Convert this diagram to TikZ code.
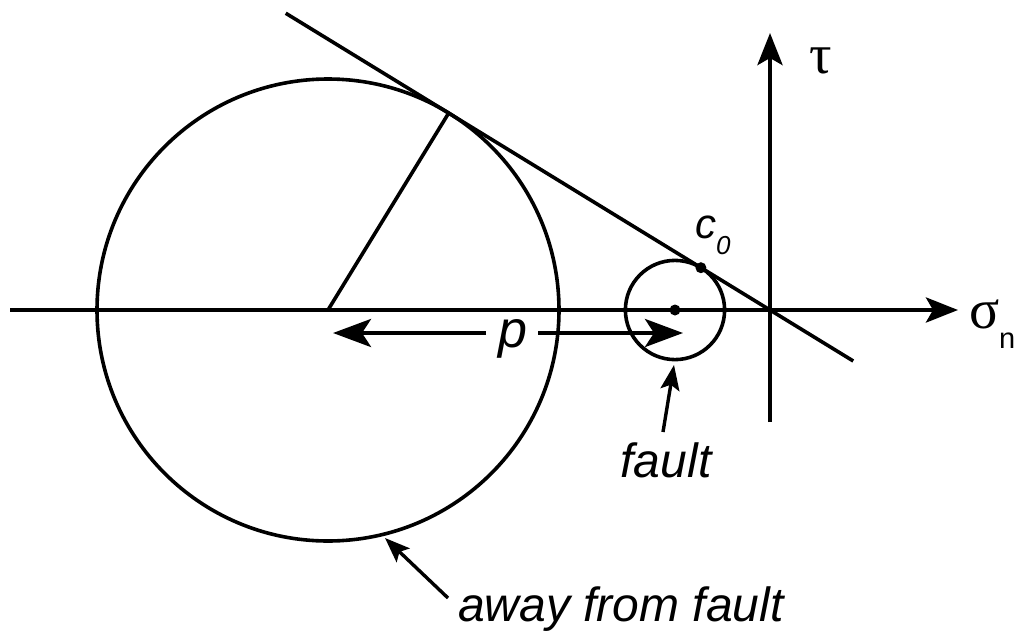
\documentclass[tikz,border=0pt]{standalone}
\usepackage{fontspec}
\setmainfont{Liberation Sans}
\newfontfamily\greekfont{Liberation Serif}
\usetikzlibrary{arrows.meta,calc}
\begin{document}
\begin{tikzpicture}[x=1pt,y=-1pt,
  axisline/.style={line width=4.6pt,-{Stealth[length=32pt,width=25pt,inset=7pt]}},
  parrow/.style={line width=4.4pt,-{Stealth[length=38pt,width=28pt,inset=9pt]}},
  smallarrow/.style={line width=3.4pt,-{Stealth[length=25pt,width=19pt,inset=5pt]}},
  curveline/.style={line width=3.6pt},
  lbl/.style={inner sep=0pt,outer sep=0pt},
  dotmark/.style={fill=black}
]
\useasboundingbox (0,0) rectangle (1015,632);
% key points
\coordinate (O) at (770,310);
\coordinate (axL) at (10,310);
\coordinate (axR) at (958,310);
\coordinate (axB) at (770,422);
\coordinate (axT) at (770,33);
\coordinate (B) at (328,310);
\coordinate (S) at (675,310);
\coordinate (T1) at ($(B)+(-58.5:231)$);
\coordinate (C0) at ($(S)+(-58.5:49.6)$);
\coordinate (L1) at ($(O)+(211.5:568)$);
\coordinate (L2) at ($(O)+(31.5:97.6)$);
% circles
\draw[curveline] (B) circle[radius=231];
\draw[curveline] (S) circle[radius=49.6];
% radius and tangent line
\draw[curveline] (B) -- (T1);
\draw[curveline] (L1) -- (L2);
% axes
\draw[axisline] (axL) -- (axR);
\draw[axisline] (axB) -- (axT);
% dots
\fill[dotmark] (C0) circle[radius=5.5];
\fill[dotmark] (S) circle[radius=5.5];
% p arrow
\node[lbl,anchor=base] (plbl) at (513,347) {\fontsize{52}{52}\selectfont\itshape p};
\coordinate (pL) at (486,333);
\coordinate (pR) at (538,333);
\coordinate (pLtip) at (333,333);
\coordinate (pRtip) at (683,333);
\draw[parrow] (pL) -- (pLtip);
\draw[parrow] (pR) -- (pRtip);
% labels
\node[lbl,anchor=base west] (tau) at (809,73) {\fontsize{56}{56}\selectfont\greekfont τ};
\node[lbl,anchor=base west] (sig) at (969,328) {\fontsize{56}{56}\selectfont\greekfont σ\raisebox{-20pt}{\fontsize{29}{29}\selectfont\normalfont n}};
\node[lbl,anchor=base west] (c0) at (695,238) {\fontsize{42}{42}\selectfont\itshape c\raisebox{-16pt}{\fontsize{26}{26}\selectfont 0}};
\node[lbl,anchor=base] (fault) at (666,477) {\fontsize{48}{48}\selectfont\itshape fault};
\node[lbl,anchor=base west] (away) at (458,621) {\fontsize{48}{48}\selectfont\itshape away from fault};
% label arrows
\coordinate (fA) at (663,432);
\coordinate (fB) at (674,365);
\draw[smallarrow] (fA) -- (fB);
\coordinate (aA) at (448,598);
\coordinate (aB) at (385,538);
\draw[smallarrow] (aA) -- (aB);
\end{tikzpicture}
\end{document}
